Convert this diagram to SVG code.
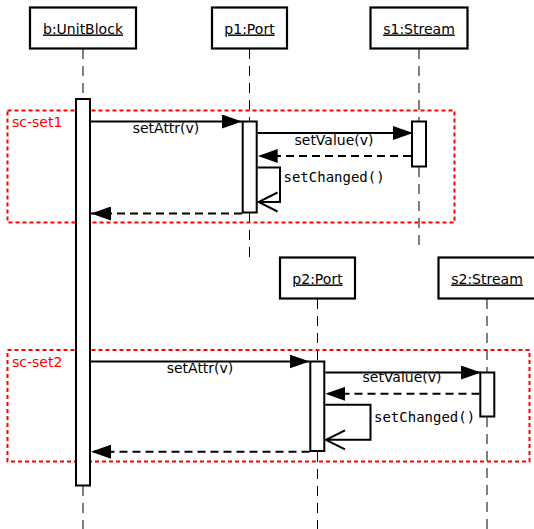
<svg xmlns="http://www.w3.org/2000/svg" width="534" height="529" viewBox="0 0 534 529">
<style>
.box{fill:#fff;stroke:#000;stroke-width:2.2}
.act{fill:#fff;stroke:#000;stroke-width:2}
.life{stroke:#000;stroke-width:1;stroke-dasharray:10,7;fill:none}
.frame{fill:none;stroke:#ff0000;stroke-width:2;stroke-dasharray:4,3}
.msg{stroke:#000;stroke-width:2;fill:none}
.ret{stroke:#000;stroke-width:2;fill:none;stroke-dasharray:8,5}
.hd{font-family:"DejaVu Sans",sans-serif;font-size:14px;text-anchor:middle;text-decoration:underline}
.lbl{font-family:"DejaVu Sans",sans-serif;font-size:14px;text-anchor:middle}
.mono{font-family:"DejaVu Sans Mono",monospace;font-size:14px}
.fl{font-family:"DejaVu Sans",sans-serif;font-size:14px;fill:#ff0000}
</style>
<defs>
<marker id="fill" markerWidth="20" markerHeight="14" refX="20" refY="7" orient="auto" markerUnits="userSpaceOnUse"><path d="M0,0 L20,7 L0,14 Z" fill="#000"/></marker>
<marker id="open" markerWidth="22" markerHeight="22" refX="20" refY="11" orient="auto" markerUnits="userSpaceOnUse"><path d="M1,1.5 L20,11 L1,20.5" fill="none" stroke="#000" stroke-width="2"/></marker>
</defs>
<g id="lifelines">
<path class="life" d="M83,49 V99 M83,486 V529"/>
<path class="life" d="M249.5,49 V121 M249.5,213 V257"/>
<path class="life" d="M419,49 V121 M419,167 V248"/>
<path class="life" d="M317.5,299 V361 M317.5,452 V529"/>
<path class="life" d="M487,299 V372 M487,417 V529"/>
</g>
<g id="sc-set1">
<rect class="frame" x="7.5" y="110.5" width="447" height="112"/>
<text class="fl" x="12" y="127">sc-set1</text>
</g>
<g id="sc-set2">
<rect class="frame" x="7.5" y="350" width="522" height="111.5"/>
<text class="fl" x="12" y="366.5">sc-set2</text>
</g>
<g id="b-UnitBlock">
<rect class="box" x="30" y="7.5" width="106" height="41"/>
<text class="hd" x="83" y="33.5">b:UnitBlock</text>
<rect class="act" x="76" y="99" width="14" height="386.5"/>
</g>
<g id="p1-Port">
<rect class="box" x="212" y="7.5" width="75" height="41"/>
<text class="hd" x="249.5" y="33.5">p1:Port</text>
<rect class="act" x="242.7" y="121.5" width="14" height="91"/>
</g>
<g id="s1-Stream">
<rect class="box" x="370.5" y="7.5" width="97" height="41"/>
<text class="hd" x="419" y="33.5">s1:Stream</text>
<rect class="act" x="412" y="121.5" width="14" height="45"/>
</g>
<g id="p2-Port">
<rect class="box" x="280" y="257.5" width="75" height="41"/>
<text class="hd" x="317.5" y="283.5">p2:Port</text>
<rect class="act" x="310.3" y="361.5" width="14" height="89.5"/>
</g>
<g id="s2-Stream">
<rect class="box" x="438.5" y="257.5" width="97" height="41"/>
<text class="hd" x="487" y="283.5">s2:Stream</text>
<rect class="act" x="480.3" y="372.5" width="14" height="44"/>
</g>
<g id="connectors">
<path class="msg" d="M91,121.5 H242" marker-end="url(#fill)"/>
<text class="lbl" x="166" y="133">setAttr(v)</text>
<path class="msg" d="M257.7,133 H413" marker-end="url(#fill)"/>
<text class="lbl" x="334" y="144.5">setValue(v)</text>
<path class="ret" d="M411,156 H257.7" marker-end="url(#fill)"/>
<path class="msg" d="M257.7,167.5 H280 V202 H258.5" marker-end="url(#open)"/>
<text class="mono" x="283.5" y="181.5">setChanged()</text>
<path class="ret" d="M242,213.5 H91" marker-end="url(#fill)"/>
<path class="msg" d="M91,361.5 H309.5" marker-end="url(#fill)"/>
<text class="lbl" x="200" y="372.5">setAttr(v)</text>
<path class="msg" d="M325.3,372.5 H481" marker-end="url(#fill)"/>
<text class="lbl" x="402" y="382">setValue(v)</text>
<path class="ret" d="M479.5,393.8 H325.3" marker-end="url(#fill)"/>
<path class="msg" d="M325.3,404.7 H370.5 V439.8 H326" marker-end="url(#open)"/>
<text class="mono" x="374" y="421.8">setChanged()</text>
<path class="ret" d="M309.5,451.7 H91" marker-end="url(#fill)"/>
</g>
</svg>
